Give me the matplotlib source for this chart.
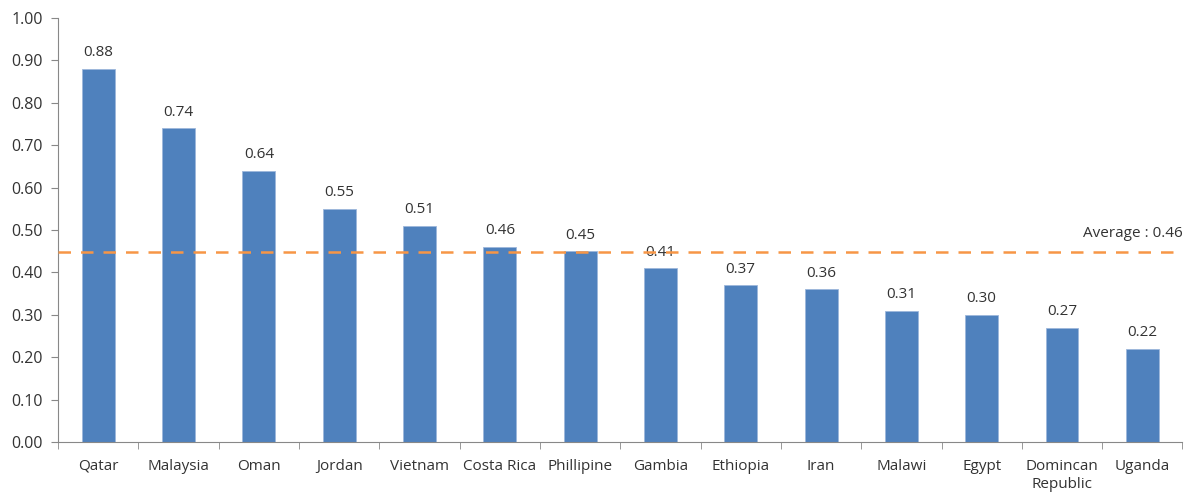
import numpy as np
import matplotlib
matplotlib.use("Agg")
import matplotlib.pyplot as plt

countries = ["Qatar", "Malaysia", "Oman", "Jordan", "Vietnam", "Costa Rica", "Phillipine",
             "Gambia", "Ethiopia", "Iran", "Malawi", "Egypt", "Domincan\nRepublic", "Uganda"]
values = [0.88, 0.74, 0.64, 0.55, 0.51, 0.46, 0.45, 0.41, 0.37, 0.36, 0.31, 0.30, 0.27, 0.22]
average_line = 0.448
average_label = "Average : 0.46"

plt.rcParams["font.family"] = ["Open Sans", "DejaVu Sans"]

fig = plt.figure(figsize=(11.86, 4.93), dpi=100)
ax = fig.add_axes([0.049, 0.103, 0.948, 0.861])

x = np.arange(len(countries))
ax.bar(x, values, width=0.41, color="#4F81BD", edgecolor="#9DB7DB", linewidth=0.6, zorder=2)
for xi, v in zip(x, values):
    ax.text(xi, v + 0.02, f"{v:.2f}", ha="center", va="bottom", fontsize=11, color="#333333", zorder=1)

ax.axhline(average_line, color="#F79646", ls=(0, (5, 4)), lw=1.8, zorder=3)
ax.text(len(countries) - 0.5, average_line + 0.025, average_label, ha="right", va="bottom",
        fontsize=11, color="#333333")

ax.set_xlim(-0.5, len(countries) - 0.5)
ax.set_ylim(0, 1.0)
ax.set_yticks(np.arange(0, 1.01, 0.1))
ax.set_yticklabels([f"{t:.2f}" for t in np.arange(0, 1.01, 0.1)], fontsize=11.5, color="#333333")
ax.set_xticks(x)
ax.set_xticklabels(countries, fontsize=11, color="#333333", va="top", linespacing=1.3)
ax.tick_params(axis="x", length=0, pad=12)
ax.set_xticks(np.arange(-0.5, len(countries), 1.0), minor=True)
ax.tick_params(axis="x", which="minor", length=5, color="#888888")
ax.tick_params(axis="y", length=5, color="#888888", pad=6)
for s in ["top", "right"]:
    ax.spines[s].set_visible(False)
for s in ["left", "bottom"]:
    ax.spines[s].set_color("#888888")

fig.savefig("out.png", dpi=100)
